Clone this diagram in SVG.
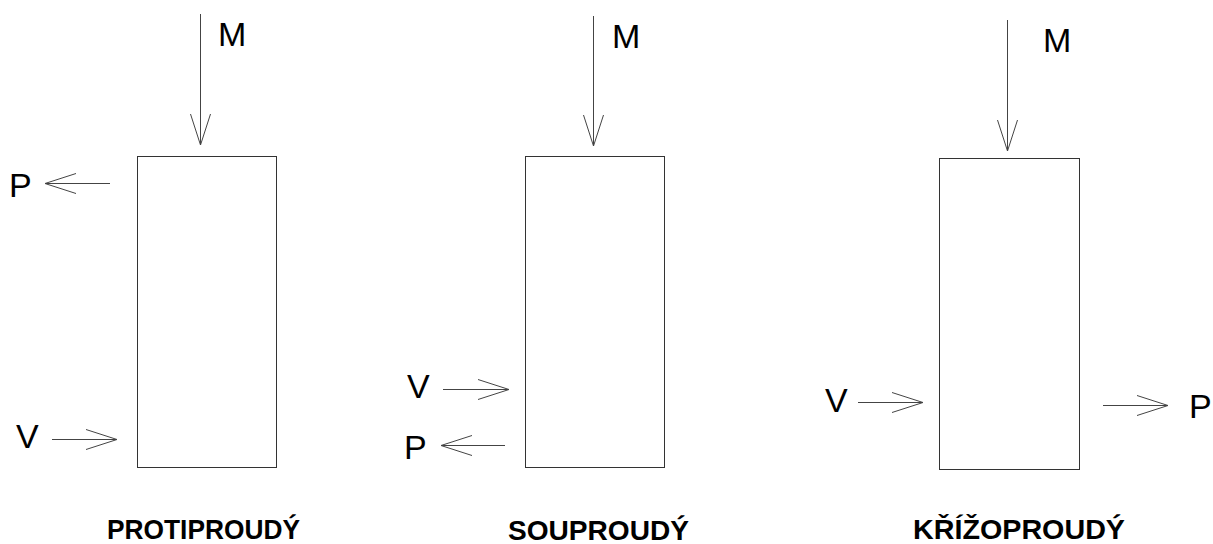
<svg xmlns="http://www.w3.org/2000/svg" width="1213" height="544" viewBox="0 0 1213 544">
<style>
.box{fill:none;stroke:#333;stroke-width:1}
.arr{fill:none;stroke:#444;stroke-width:1}
.lbl{font-family:"Liberation Sans",Arial,sans-serif;font-size:34px;fill:#000}
.title{font-family:"Liberation Sans",Arial,sans-serif;font-size:28px;font-weight:bold;fill:#000}
</style>
<defs>
<marker id="open" viewBox="0 0 33 22" refX="32" refY="11" markerWidth="33" markerHeight="22" markerUnits="userSpaceOnUse" orient="auto">
<path d="M1,1 L32,11 L1,21" fill="none" stroke="#444" stroke-width="1"/>
</marker>
</defs>
<rect width="1213" height="544" fill="#fff"/>
<g id="node-protiproudy">
<rect class="box" x="137.5" y="156.5" width="139" height="311"/>
<text class="title" x="107" y="539" textLength="193" lengthAdjust="spacingAndGlyphs">PROTIPROUDÝ</text>
</g>
<g id="node-souproudy">
<rect class="box" x="525.5" y="156.5" width="139" height="311"/>
<text class="title" x="508" y="540" textLength="181" lengthAdjust="spacingAndGlyphs">SOUPROUDÝ</text>
</g>
<g id="node-krizoproudy">
<rect class="box" x="939.5" y="158.5" width="140" height="311"/>
<text class="title" x="913" y="539" textLength="212" lengthAdjust="spacingAndGlyphs">KŘÍŽOPROUDÝ</text>
</g>
<g id="labels">
<text class="lbl" x="218" y="46">M</text>
<text class="lbl" x="9" y="197">P</text>
<text class="lbl" x="16" y="448">V</text>
<text class="lbl" x="612" y="48">M</text>
<text class="lbl" x="407" y="398">V</text>
<text class="lbl" x="404" y="459">P</text>
<text class="lbl" x="1043" y="52">M</text>
<text class="lbl" x="825" y="412">V</text>
<text class="lbl" x="1189" y="418">P</text>
</g>
<g id="connectors">
<line class="arr" x1="200.5" y1="14" x2="200.5" y2="145" marker-end="url(#open)"/>
<line class="arr" x1="110" y1="183.5" x2="45" y2="183.5" marker-end="url(#open)"/>
<line class="arr" x1="52" y1="439.5" x2="117" y2="439.5" marker-end="url(#open)"/>
<line class="arr" x1="593.5" y1="16" x2="593.5" y2="146" marker-end="url(#open)"/>
<line class="arr" x1="443" y1="389.5" x2="509" y2="389.5" marker-end="url(#open)"/>
<line class="arr" x1="505" y1="445.5" x2="441" y2="445.5" marker-end="url(#open)"/>
<line class="arr" x1="1007.5" y1="20" x2="1007.5" y2="151" marker-end="url(#open)"/>
<line class="arr" x1="858" y1="402.5" x2="923" y2="402.5" marker-end="url(#open)"/>
<line class="arr" x1="1103" y1="405.5" x2="1168" y2="405.5" marker-end="url(#open)"/>
</g>
</svg>
